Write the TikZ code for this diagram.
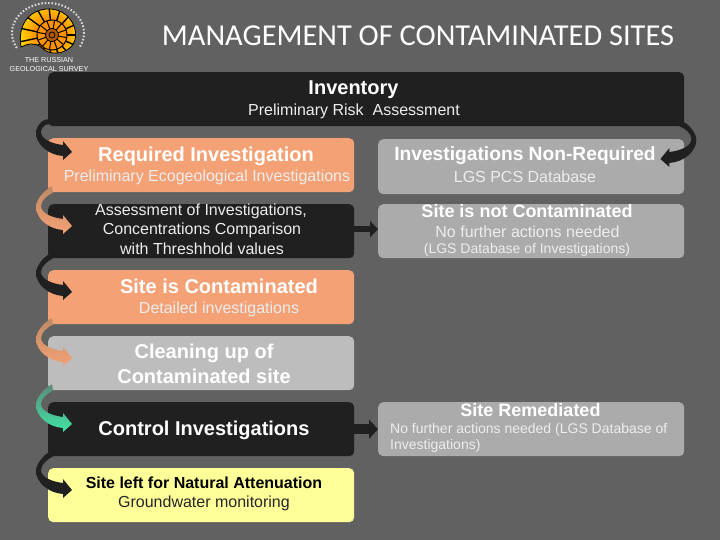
\documentclass[tikz,border=0pt]{standalone}
\usepackage{fontspec}
\setmainfont{Liberation Sans}
\newfontfamily\titlefont{Carlito}
\usetikzlibrary{calc,shadings,arrows.meta}
\definecolor{bgc}{HTML}{616161}
\definecolor{darkc}{HTML}{202020}
\definecolor{orangec}{HTML}{F4A175}
\definecolor{orangetop}{HTML}{C08A62}
\definecolor{grayL}{HTML}{BDBDBD}
\definecolor{grayR}{HTML}{ABABAB}
\definecolor{yellowc}{HTML}{FFFF99}
\definecolor{greenc}{HTML}{3FE3A6}
\definecolor{greentop}{HTML}{5C8C78}
\tikzset{
  stage/.style={minimum width=306pt,minimum height=54pt,rounded corners=5pt,inner sep=0pt,anchor=north west},
  wide/.style={minimum width=636pt,minimum height=54pt,rounded corners=5pt,inner sep=0pt,anchor=north west,fill=darkc},
  big/.style={font=\fontsize{20}{24}\selectfont\bfseries,text=white,inner sep=0pt},
  mid/.style={font=\fontsize{18}{22}\selectfont\bfseries,text=white,inner sep=0pt},
  small/.style={font=\fontsize{16}{19}\selectfont,text=white!93!black,inner sep=0pt},
  tiny/.style={font=\fontsize{14}{17}\selectfont,text=white!93!black,inner sep=0pt},
  logotext/.style={inner sep=0pt,text=white,font=\fontsize{7.2}{8}\selectfont},
}
% source, target, top colour, bottom colour, tip drop below target top, side of box, sign
\newcommand\swoosh[7]{%
  \def\s{#7}%
  \coordinate (tip) at ($(#2.north #6)+({-\s*24},#5)$);
  \shade[top color=#3,bottom color=#4,draw=none]
    ($(#1.south #6)+({\s*-4},-6)$)
    .. controls ($(tip)+({\s*28},-36)$) and ($(tip)+({\s*36},-26)$) .. ($(tip)+({\s*36},-19)$)
    .. controls ($(tip)+({\s*36},-8)$) and ($(tip)+({\s*24},3)$) .. ($(tip)+({\s*9},4)$)
    -- ($(tip)+({\s*9},8)$) -- (tip) -- ($(tip)+({\s*9},-11)$) -- ($(tip)+({\s*9},-7)$)
    .. controls ($(tip)+({\s*18},-8)$) and ($(tip)+({\s*31},-12)$) .. ($(tip)+({\s*31},-20)$)
    .. controls ($(tip)+({\s*31},-26)$) and ($(tip)+({\s*24},-31)$) .. ($(#1.south #6)+({\s*-5},0)$)
    -- cycle;
}
\begin{document}
\begin{tikzpicture}[x=1pt,y=-1pt]
\useasboundingbox (0,0) rectangle (720,540);
\fill[bgc] (0,0) rectangle (720,540);

% logo
\begin{scope}
  \path[clip] (21,47) .. controls (19,35) and (21,22) .. (32,14)
     .. controls (42,7) and (60,6) .. (70,19)
     .. controls (78,29) and (78,44) .. (67,50)
     .. controls (58,55) and (47,54) .. (41,47)
     .. controls (34,42) and (27,44) .. (21,47) -- cycle;
  \shade[inner color=orange!70!red,outer color=yellow!85!orange] (50,33) circle (36);
  \foreach \a in {0,24,...,359}{
    \draw[black,line width=1.4pt] (52,35) -- ++(\a:50);
  }
  \fill[orange!85!yellow] (52,35) circle (15);
  \foreach \a in {10,40,...,359}{
    \draw[black,line width=1pt] (52,35) -- ++(\a:15);
  }
  \draw[black,line width=1pt] (52,35) circle (15);
  \fill[orange!70!black] (52,35) circle (6.5);
  \draw[black,line width=0.8pt] (52,35) circle (6.5) circle (3);
\end{scope}
\draw[black,line width=.8pt] (21,47) .. controls (19,35) and (21,22) .. (32,14)
     .. controls (42,7) and (60,6) .. (70,19)
     .. controls (78,29) and (78,44) .. (67,50)
     .. controls (58,55) and (47,54) .. (41,47)
     .. controls (34,42) and (27,44) .. (21,47) -- cycle;
\draw[white!85!black,line width=2pt,dash pattern=on 1.6pt off 1.8pt] (48,33) ++(150:36 and 30) arc[start angle=150,end angle=390,x radius=36,y radius=30];
\node[logotext] (logoa) at (49,60) {THE RUSSIAN};
\node[logotext] (logob) at (49,69) {GEOLOGICAL SURVEY};

% title
\node[inner sep=0pt,text=white,font=\titlefont\fontsize{30.4}{36}\selectfont] (title) at (418,36) {MANAGEMENT OF CONTAMINATED SITES};

% boxes
\node[wide] (inv) at (48,72) {};
\node[stage,fill=orangec] (req) at (48,138) {};
\node[stage,fill=grayR,minimum height=55pt] (nonreq) at (378,139) {};
\node[stage,fill=darkc] (assess) at (48,204) {};
\node[stage,fill=grayR] (notcont) at (378,204) {};
\node[stage,fill=orangec] (cont) at (48,270) {};
\node[stage,fill=grayL] (clean) at (48,336) {};
\node[stage,fill=darkc] (control) at (48,402) {};
\node[stage,fill=grayR] (remed) at (378,402) {};
\node[stage,fill=yellowc] (natural) at (48,468) {};

% text
\node[big] (t1) at (353.5,90) {Inventory};
\node[small] (t2) at (354,111) {Preliminary Risk\ \ Assessment};
\node[big] (t3) at (206,156) {Required Investigation};
\node[small] (t4) at (207,177) {Preliminary Ecogeological Investigations};
\node[mid,font=\fontsize{19.2}{23}\selectfont\bfseries] (t5) at (525,156) {Investigations Non-Required};
\node[small] (t6) at (525,176.5) {LGS PCS Database};
\node[small] (t7) at (201,211) {Assessment of Investigations,};
\node[small] (t8) at (202,230) {Concentrations Comparison};
\node[small] (t9) at (202,249) {with Threshhold values};
\node[mid] (t10) at (527,211) {Site is not Contaminated};
\node[small] (t11) at (527.5,232) {No further actions needed};
\node[tiny] (t12) at (527,250) {(LGS Database of Investigations)};
\node[big] (t13) at (219,286) {Site is Contaminated};
\node[small] (t14) at (219,309) {Detailed investigations};
\node[big] (t15) at (204,353) {Cleaning up of};
\node[big] (t16) at (204,376) {Contaminated site};
\node[big] (t17) at (204,430.5) {Control Investigations};
\node[mid] (t18) at (530.5,410) {Site Remediated};
\node[tiny,anchor=west] (t19) at (390,430) {No further actions needed (LGS Database of};
\node[tiny,anchor=west] (t20) at (390,446) {Investigations)};
\node[small,font=\fontsize{16}{19}\selectfont\bfseries,text=black] (t21) at (204,483) {Site left for Natural Attenuation};
\node[small,text=black!85] (t22) at (204,503) {Groundwater monitoring};

% connectors
\swoosh{inv}{req}{darkc}{darkc}{14}{west}{-1}
\swoosh{req}{assess}{orangetop}{orangec}{22}{west}{-1}
\swoosh{assess}{cont}{darkc}{darkc}{22}{west}{-1}
\swoosh{cont}{clean}{orangetop}{orangec}{22}{west}{-1}
\swoosh{clean}{control}{greentop}{greenc}{22}{west}{-1}
\swoosh{control}{natural}{darkc}{darkc}{22}{west}{-1}
\swoosh{inv}{nonreq}{darkc}{darkc}{20}{east}{1}
\draw[darkc,line width=6pt,-{Triangle[length=8pt,width=16pt]}] ($(assess.east)+(0,-2)$) -- ($(notcont.west)+(0,-2)$);
\draw[darkc,line width=10pt,-{Triangle[length=9pt,width=19pt]}] (control.east) -- (remed.west);
\end{tikzpicture}
\end{document}
